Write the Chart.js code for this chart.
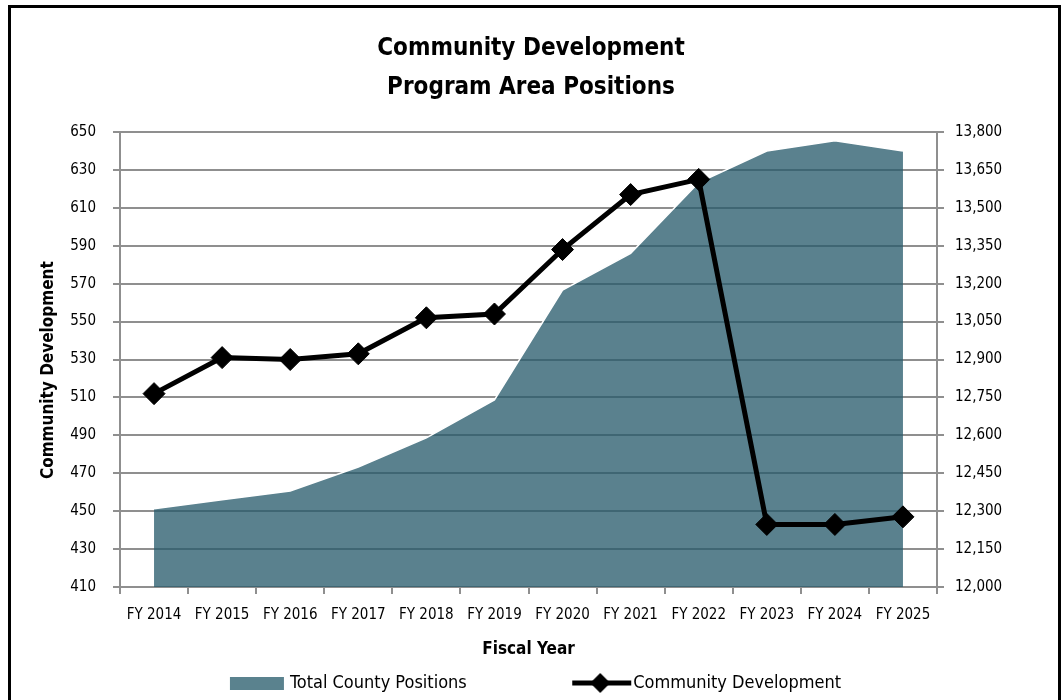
<!DOCTYPE html>
<html>
<head>
<meta charset="utf-8">
<script src="https://cdn.jsdelivr.net/npm/chart.js@4.4.1/dist/chart.umd.min.js"></script>
<style>
  html, body { margin: 0; padding: 0; background: #fff; }
  #wrap { width: 1062px; height: 700px; }
</style>
</head>
<body>
<div id="wrap"><canvas id="myChart" width="1062" height="700"></canvas></div>
<script>
const categories = ['FY 2014', 'FY 2015', 'FY 2016', 'FY 2017', 'FY 2018', 'FY 2019',
                    'FY 2020', 'FY 2021', 'FY 2022', 'FY 2023', 'FY 2024', 'FY 2025'];
const communityDev = [512, 531, 530, 533, 552, 554, 588, 617, 625, 443, 443, 447];
const totalCounty = [12310, 12345, 12380, 12475, 12590, 12740, 13175, 13320, 13600, 13725, 13765, 13725];

const leftTicks = { min: 410, max: 650, step: 20 };
const rightTicks = { min: 12000, max: 13800, step: 150 };

const FONT = "'DejaVu Sans Condensed', 'Liberation Sans Narrow', sans-serif";
const AREA = '#5a828e';
const GRID = '#8f8f8f';

// legend swatches
function areaSwatch() {
  const c = document.createElement('canvas');
  c.width = 80; c.height = 20;
  const g = c.getContext('2d');
  g.fillStyle = AREA;
  g.fillRect(19, 4, 54, 13);
  return c;
}
function lineSwatch() {
  const c = document.createElement('canvas');
  c.width = 80; c.height = 26;
  const g = c.getContext('2d');
  g.strokeStyle = '#000';
  g.lineWidth = 5;
  g.beginPath(); g.moveTo(18, 13); g.lineTo(77, 13); g.stroke();
  g.fillStyle = '#000';
  g.beginPath();
  g.moveTo(46, 3); g.lineTo(56, 13); g.lineTo(46, 23); g.lineTo(36, 13);
  g.closePath(); g.fill();
  return c;
}

const frame = {
  id: 'frame',
  beforeDraw(chart) {
    const ctx = chart.ctx;
    ctx.save();
    ctx.fillStyle = '#fff';
    ctx.fillRect(0, 0, chart.width, chart.height);
    ctx.strokeStyle = '#000';
    ctx.lineWidth = 3;
    ctx.strokeRect(9.5, 6.5, 1050, 720);
    ctx.restore();
  }
};

const ctx = document.getElementById('myChart').getContext('2d');
const chart = new Chart(ctx, {
  type: 'line',
  data: {
    labels: categories,
    datasets: [{
      label: 'Total County Positions',
      data: totalCounty,
      yAxisID: 'y1',
      fill: 'start',
      backgroundColor: 'rgba(38,90,106,0.76)',
      borderColor: '#ffffff',
      borderWidth: 1.5,
      pointRadius: 0,
      tension: 0,
      order: 1
    },
    {
      label: 'Community Development',
      data: communityDev,
      yAxisID: 'y',
      borderColor: '#000',
      borderWidth: 5,
      pointStyle: 'rectRot',
      pointRadius: 11,
      pointBackgroundColor: '#000',
      pointBorderColor: '#000',
      pointBorderWidth: 1,
      fill: false,
      tension: 0,
      order: 0
    }]
  },
  options: {
    responsive: false,
    animation: false,
    devicePixelRatio: 1,
    layout: { padding: 0 },
    events: [],
    plugins: {
      title: {
        display: true,
        text: ['Community Development', 'Program Area Positions'],
        color: '#000',
        font: { family: FONT, size: 24, weight: 'bold', lineHeight: 1.625 },
        padding: { top: 29.5, bottom: 24.5 }
      },
      legend: {
        position: 'bottom',
        maxHeight: 36,
        labels: {
          usePointStyle: true,
          pointStyleWidth: 60,
          padding: 10,
          color: '#000',
          font: { family: FONT, size: 18 },
          generateLabels() {
            return [
              { text: 'Total County Positions' + ' '.repeat(17), pointStyle: areaSwatch(), fillStyle: AREA,
                strokeStyle: AREA, lineWidth: 0, hidden: false, datasetIndex: 0, fontColor: '#000' },
              { text: 'Community Development', pointStyle: lineSwatch(), fillStyle: '#000',
                strokeStyle: '#000', lineWidth: 0, hidden: false, datasetIndex: 1, fontColor: '#000' }
            ];
          }
        }
      },
      tooltip: { enabled: false }
    },
    scales: {
      x: {
        type: 'category',
        offset: true,
        grid: { offset: true, drawOnChartArea: false, tickLength: 7, color: GRID, lineWidth: 2 },
        border: { display: true, color: GRID, width: 2 },
        ticks: { color: '#000', padding: 12, maxRotation: 0, autoSkip: false, font: { family: FONT, size: 15 } },
        title: {
          display: true, text: 'Fiscal Year', color: '#000',
          font: { family: FONT, size: 17, weight: 'bold', lineHeight: 1.2 },
          padding: { top: 0, bottom: 4 }
        },
        afterFit(scale) { scale.height = 77; }
      },
      y: {
        position: 'left',
        min: leftTicks.min,
        max: leftTicks.max,
        ticks: { stepSize: leftTicks.step, color: '#000', padding: 17, font: { family: FONT, size: 15 } },
        grid: { color: GRID, lineWidth: 2, tickLength: 7 },
        border: { display: true, color: GRID, width: 2 },
        title: {
          display: true, text: 'Community Development    ', color: '#000',
          font: { family: FONT, size: 17, weight: 'bold', lineHeight: 1.2 },
          padding: { top: 38, bottom: 0 }
        },
        afterFit(scale) { scale.width = 120; }
      },
      y1: {
        position: 'right',
        min: rightTicks.min,
        max: rightTicks.max,
        ticks: { stepSize: rightTicks.step, color: '#000', padding: 11, font: { family: FONT, size: 15 } },
        grid: { drawOnChartArea: false, color: GRID, lineWidth: 2, tickLength: 7 },
        border: { display: true, color: GRID, width: 2 },
        afterFit(scale) { scale.width = 125; }
      }
    }
  },
  plugins: [frame]
});
</script>
</body>
</html>
